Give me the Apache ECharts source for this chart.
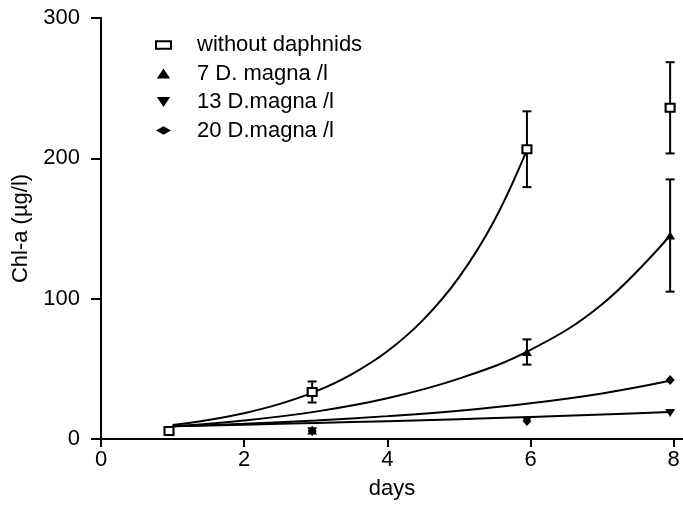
<!DOCTYPE html>
<html>
<head>
<meta charset="utf-8">
<script src="https://cdn.jsdelivr.net/npm/echarts@6/dist/echarts.min.js"></script>
<style>html,body{margin:0;padding:0;background:#fff}#c{width:683px;height:509px}</style>
</head>
<body>
<div id="c"></div>
<script>
// ---- data ----
const seriesNames = ['without daphnids', '7 D. magna /l', '13 D.magna /l', '20 D.magna /l'];
const sampleDays = [0.95, 2.95, 5.95, 7.95];
const withoutMean = [5.7, 33.5, 206.5, 236];
const withoutErr = [2, 7.5, 27, 32.5];
const magna7Mean = [5.7, 6, 62, 145];
const magna7Err = [0, 0, 9, 40];
const magna13Mean = [5.7, 5.5, 13, 18.5];
const magna20Mean = [5.7, 5.7, 12.8, 42];

const curveWithoutDays = [1, 1.5, 2, 2.5, 3, 3.5, 4, 4.5, 5, 5.5, 5.95];
const curveWithout = [10, 13.6, 18.4, 25, 33.9, 46.1, 62.5, 84.9, 115.2, 156.3, 206];
const curveDays = [1, 2, 3, 4, 5, 6, 7, 7.95];
const curve7 = [9, 13.2, 19.5, 29, 43, 63.5, 96, 145];
const curve13 = [9, 10.2, 11.4, 12.7, 14.1, 15.7, 17.4, 19.2];
const curve20 = [9, 10.8, 13.2, 16.3, 20.2, 25.5, 32.5, 41.5];

const xTicks = [0, 2, 4, 6, 8];
const yTicks = [0, 100, 200, 300];

// ---- build ----
const FONT = "'Liberation Sans', Arial, sans-serif";
const FS = 22;
const downTri = 'path://M0,0 L12,0 L6,9 Z';
const upTri = 'path://M0,9 L6,0 L12,9 Z';
const legendRect = 'path://M0,0 L14,0 L14,7 L0,7 Z';
const legendDiamond = 'path://M0,4 L7,0 L14,4 L7,8 Z';
const zip = (xs, ys) => xs.map((x, i) => [x, ys[i]]);
const errData = (means, errs) => sampleDays.map((d, i) => [d, means[i] - errs[i], means[i] + errs[i]]).filter((r, i) => errs[i] > 0);

function errorBar(params, api) {
  const x = api.value(0);
  const lo = api.coord([x, api.value(1)]);
  const hi = api.coord([x, api.value(2)]);
  const hw = 4.5;
  const st = { stroke: '#000', lineWidth: 2 };
  return {
    type: 'group',
    children: [
      { type: 'line', shape: { x1: lo[0], y1: lo[1], x2: hi[0], y2: hi[1] }, style: st },
      { type: 'line', shape: { x1: lo[0] - hw, y1: lo[1], x2: lo[0] + hw, y2: lo[1] }, style: st },
      { type: 'line', shape: { x1: hi[0] - hw, y1: hi[1], x2: hi[0] + hw, y2: hi[1] }, style: st }
    ]
  };
}

const lineSeries = (data) => ({
  type: 'line', data: data, smooth: 0.4, showSymbol: false, symbol: 'none',
  lineStyle: { color: '#000', width: 2 }, silent: true, z: 2, animation: false
});

const chart = echarts.init(document.getElementById('c'), null, { renderer: 'canvas' });
chart.setOption({
  animation: false,
  backgroundColor: '#fff',
  textStyle: { fontFamily: FONT, color: '#000' },
  grid: { left: 101, right: 0, top: 18, bottom: 70, containLabel: false },
  legend: {
    orient: 'vertical', left: 150, top: 29, itemWidth: 15, itemHeight: 10, itemGap: 6.5,
    symbolKeepAspect: true,
    textStyle: { fontFamily: FONT, fontSize: FS, color: '#000', padding: [0, 0, 0, 21] },
    data: [
      { name: seriesNames[0], icon: legendRect },
      { name: seriesNames[1], icon: upTri },
      { name: seriesNames[2], icon: downTri },
      { name: seriesNames[3], icon: legendDiamond }
    ],
    selectedMode: false
  },
  xAxis: {
    type: 'value', min: 0, max: 8.13, interval: 2,
    name: 'days', nameLocation: 'middle', nameGap: 39,
    nameTextStyle: { fontFamily: FONT, fontSize: FS, color: '#000' },
    axisLine: { show: true, onZero: false, lineStyle: { color: '#000', width: 2 } },
    axisTick: { show: true, length: 8, lineStyle: { color: '#000', width: 2 } },
    axisLabel: {
      fontFamily: FONT, fontSize: FS, color: '#000', margin: 10, showMaxLabel: false,
      formatter: v => (xTicks.indexOf(v) >= 0 ? String(v) : '')
    },
    splitLine: { show: false }
  },
  yAxis: {
    type: 'value', min: 0, max: 300, interval: 100,
    name: 'Chl-a (µg/l)', nameLocation: 'middle', nameGap: 59, nameRotate: 90,
    nameTextStyle: { fontFamily: FONT, fontSize: FS, color: '#000' },
    axisLine: { show: true, lineStyle: { color: '#000', width: 2 } },
    axisTick: { show: true, length: 10, lineStyle: { color: '#000', width: 2 } },
    axisLabel: {
      fontFamily: FONT, fontSize: FS, color: '#000', margin: 21,
      formatter: v => (yTicks.indexOf(v) >= 0 ? String(v) : '')
    },
    splitLine: { show: false }
  },
  series: [
    lineSeries(zip(curveWithoutDays, curveWithout)),
    lineSeries(zip(curveDays, curve7)),
    lineSeries(zip(curveDays, curve13)),
    lineSeries(zip(curveDays, curve20)),
    { type: 'custom', renderItem: errorBar, data: errData(withoutMean, withoutErr), z: 3, silent: true },
    { type: 'custom', renderItem: errorBar, data: errData(magna7Mean, magna7Err), z: 3, silent: true },
    {
      name: seriesNames[0], type: 'scatter', data: zip(sampleDays, withoutMean), symbol: 'rect', symbolSize: [9, 8], z: 5,
      itemStyle: { color: '#fff', borderColor: '#000', borderWidth: 2, opacity: 1 }
    },
    {
      name: seriesNames[1], type: 'scatter', data: zip(sampleDays, magna7Mean), symbol: 'triangle', symbolSize: [10, 8], z: 4,
      itemStyle: { color: '#000', opacity: 1 }
    },
    {
      name: seriesNames[2], type: 'scatter', data: zip(sampleDays, magna13Mean), symbol: downTri, symbolSize: [10, 8], z: 4,
      itemStyle: { color: '#000', opacity: 1 }
    },
    {
      name: seriesNames[3], type: 'scatter', data: zip(sampleDays, magna20Mean), symbol: 'diamond', symbolSize: [9, 10], z: 4,
      itemStyle: { color: '#000', opacity: 1 }
    }
  ]
});
</script>
</body>
</html>
